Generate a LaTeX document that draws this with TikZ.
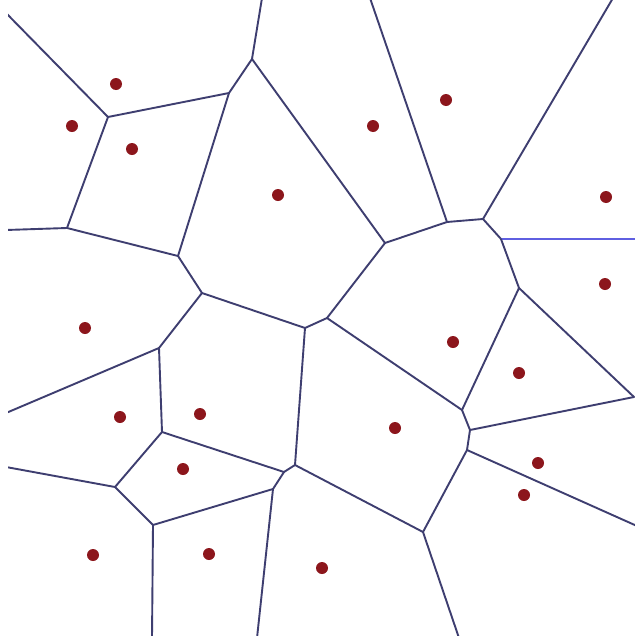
\documentclass[tikz,border=0pt]{standalone}
\usetikzlibrary{calc}
\definecolor{edgeblue}{RGB}{62,62,112}
\definecolor{rayblue}{RGB}{95,95,225}
\definecolor{sitered}{RGB}{140,22,28}

\begin{document}
\begin{tikzpicture}[x=0.5mm, y=-0.5mm,
    edge/.style={draw=edgeblue, line width=2.7pt, line cap=round, line join=round},
    site/.style={circle, fill=sitered, inner sep=0pt, minimum size=6mm}]
    \useasboundingbox[fill=white] (0,0) rectangle (635,636);
    \clip (8,0) rectangle (635,636);

    % Voronoi vertices
    \coordinate (va) at (108,117);
    \coordinate (vb) at (229,93);
    \coordinate (vc) at (67,228);
    \coordinate (vd) at (252,59);
    \coordinate (ve) at (178,256);
    \coordinate (vf) at (202,293);
    \coordinate (vg) at (447,222);
    \coordinate (vh) at (483,219);
    \coordinate (vi) at (501,239);
    \coordinate (vj) at (519,288);
    \coordinate (vk) at (385,243);
    \coordinate (vl) at (305,328);
    \coordinate (vm) at (327,318);
    \coordinate (vn) at (159,348);
    \coordinate (vo) at (162,432);
    \coordinate (vp) at (295,465);
    \coordinate (vq) at (284,472);
    \coordinate (vr) at (273,489);
    \coordinate (vs) at (153,525);
    \coordinate (vt) at (115,487);
    \coordinate (vu) at (462,410);
    \coordinate (vv) at (470,430);
    \coordinate (vw) at (467,450);
    \coordinate (vx) at (423,532);
    \coordinate (vy) at (634,397);

    % ends on the frame
    \coordinate (e1) at (6,13);
    \coordinate (e2) at (262,-2);
    \coordinate (e3) at (6,230);
    \coordinate (e4) at (370,-2);
    \coordinate (e5) at (613,-2);
    \coordinate (e6) at (637,239);
    \coordinate (e7) at (637,526);
    \coordinate (e8) at (459,638);
    \coordinate (e9) at (257,638);
    \coordinate (e10) at (152,638);
    \coordinate (e11) at (6,467);
    \coordinate (e12) at (6,413);

    % cell borders
    \draw[edge] (e1) -- (va);
    \draw[edge] (va) -- (vb);
    \draw[edge] (va) -- (vc);
    \draw[edge] (vb) -- (vd);
    \draw[edge] (vd) -- (e2);
    \draw[edge] (vb) -- (ve);
    \draw[edge] (vc) -- (e3);
    \draw[edge] (vc) -- (ve);
    \draw[edge] (ve) -- (vf);
    \draw[edge] (vd) -- (vk);
    \draw[edge] (vf) -- (vn);
    \draw[edge] (vf) -- (vl);
    \draw[edge] (vl) -- (vm);
    \draw[edge] (vl) -- (vp);
    \draw[edge] (vm) -- (vk);
    \draw[edge] (vm) -- (vu);
    \draw[edge] (vk) -- (vg);
    \draw[edge] (vg) -- (e4);
    \draw[edge] (vg) -- (vh);
    \draw[edge] (vh) -- (e5);
    \draw[edge] (vh) -- (vi);
    \draw[edge, draw=rayblue] (vi) -- (e6);
    \draw[edge] (vi) -- (vj);
    \draw[edge] (vj) -- (vu);
    \draw[edge] (vj) -- (vy);
    \draw[edge] (vu) -- (vv);
    \draw[edge] (vv) -- (vy);
    \draw[edge] (vv) -- (vw);
    \draw[edge] (vw) -- (e7);
    \draw[edge] (vw) -- (vx);
    \draw[edge] (vx) -- (e8);
    \draw[edge] (vx) -- (vp);
    \draw[edge] (vp) -- (vq);
    \draw[edge] (vq) -- (vo);
    \draw[edge] (vq) -- (vr);
    \draw[edge] (vr) -- (vs);
    \draw[edge] (vr) -- (e9);
    \draw[edge] (vs) -- (vt);
    \draw[edge] (vs) -- (e10);
    \draw[edge] (vt) -- (e11);
    \draw[edge] (vt) -- (vo);
    \draw[edge] (vo) -- (vn);
    \draw[edge] (vn) -- (e12);

    % sites
    \node[site] (s1) at (116,84) {};
    \node[site] (s2) at (72,126) {};
    \node[site] (s3) at (132,149) {};
    \node[site] (s4) at (278,195) {};
    \node[site] (s5) at (446,100) {};
    \node[site] (s6) at (373,126) {};
    \node[site] (s7) at (606,197) {};
    \node[site] (s8) at (605,284) {};
    \node[site] (s9) at (85,328) {};
    \node[site] (s10) at (453,342) {};
    \node[site] (s11) at (519,373) {};
    \node[site] (s12) at (120,417) {};
    \node[site] (s13) at (200,414) {};
    \node[site] (s14) at (395,428) {};
    \node[site] (s15) at (183,469) {};
    \node[site] (s16) at (538,463) {};
    \node[site] (s17) at (524,495) {};
    \node[site] (s18) at (93,555) {};
    \node[site] (s19) at (209,554) {};
    \node[site] (s20) at (322,568) {};
\end{tikzpicture}
\end{document}
